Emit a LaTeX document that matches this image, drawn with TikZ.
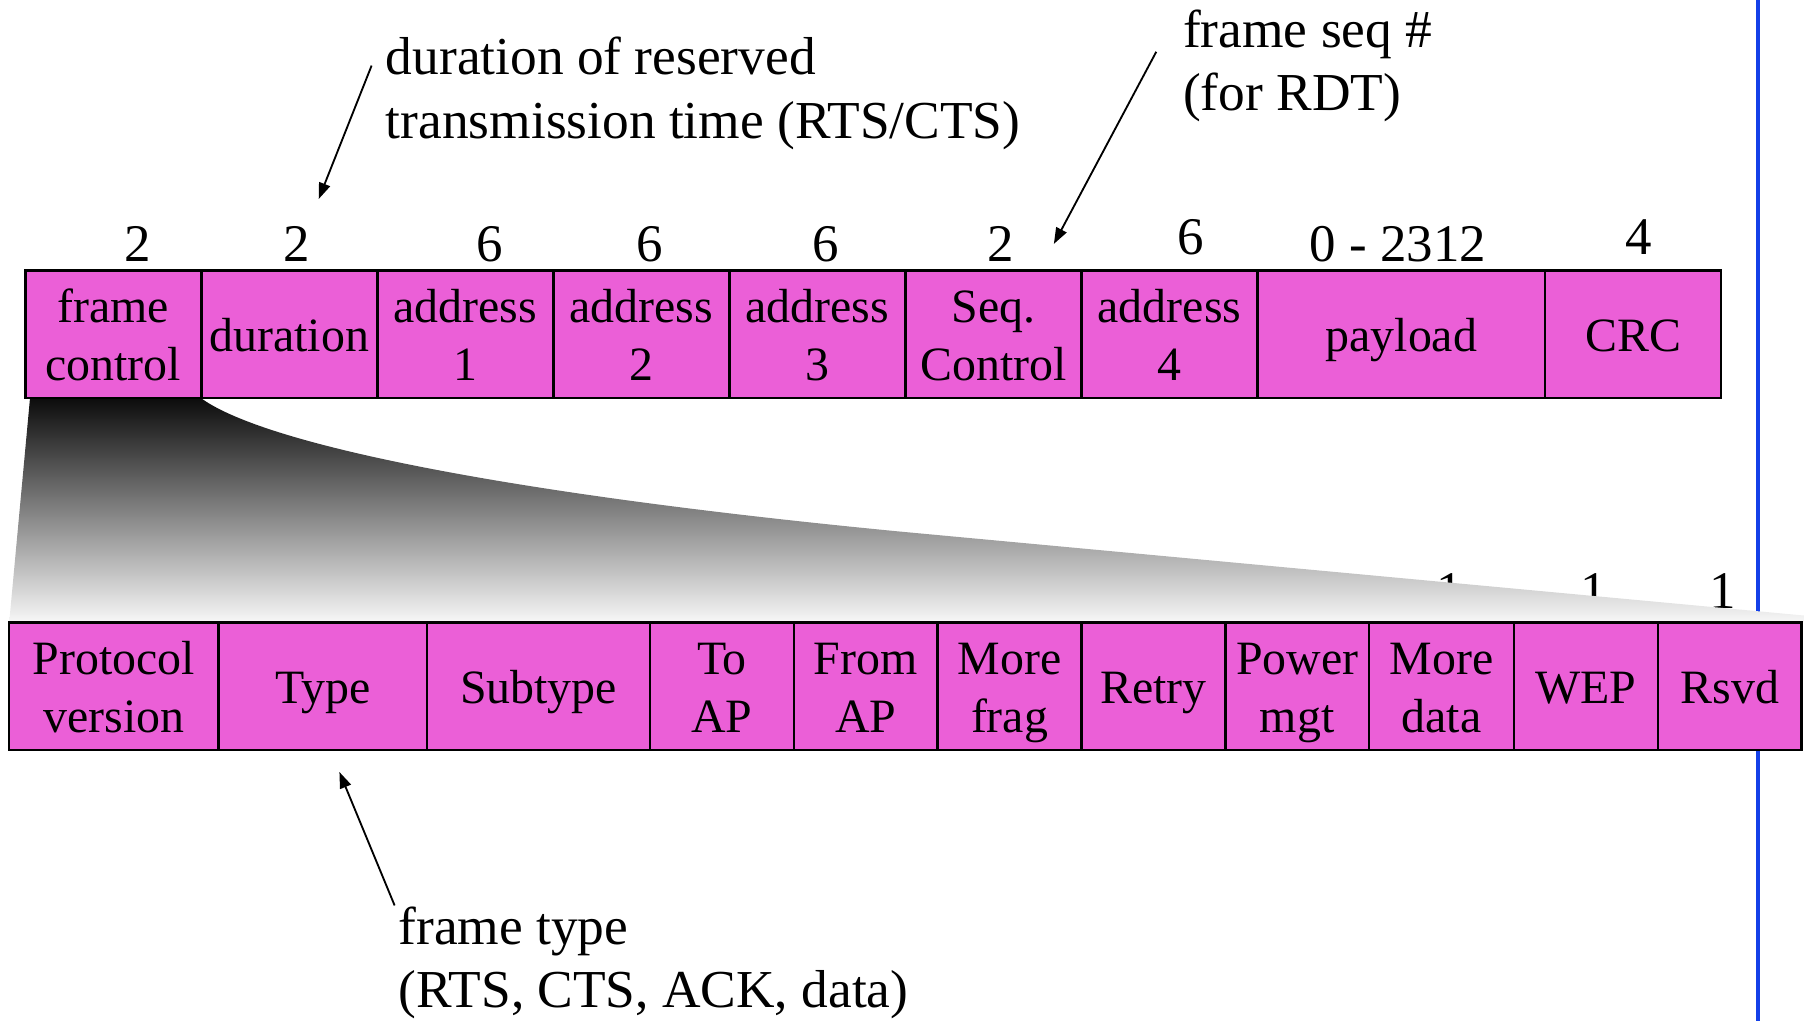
\documentclass[tikz,border=0pt]{standalone}
\usepackage{fontspec}
\setmainfont{Liberation Serif}
\usetikzlibrary{arrows.meta}
\definecolor{fieldpink}{RGB}{235,95,215}
\definecolor{rulerblue}{RGB}{20,64,232}
% line strut for field labels: 20pt above, 5pt below the baseline
\newcommand\fieldstrut{\rule[-5pt]{0pt}{25pt}}

\begin{document}
\begin{tikzpicture}[x=0.5pt,y=-0.5pt,
  fieldbox/.style={draw=black, line width=1.1pt, fill=fieldpink, inner sep=0pt,
    align=center, font=\fontsize{20.8}{25}\selectfont, minimum height=55.5pt},
  sizelabel/.style={inner sep=0pt, font=\fontsize{23}{27.5}\selectfont},
  note/.style={inner sep=0pt, align=left, anchor=base west,
    font=\fontsize{23.2}{27.5}\selectfont},
  pointer/.style={line width=0.8pt, -{Triangle[length=7pt,width=5pt]}},
  ruler/.style={draw=rulerblue, line width=2pt},
]
\useasboundingbox (0,0) rectangle (1568,887);

% vertical blue rule on the right
\coordinate (rulerTop) at (1528,0);
\coordinate (rulerBottom) at (1528,887);
\draw[ruler] (rulerTop) -- (rulerBottom);

% field sizes (bytes) above the MAC frame
\node[sizelabel] (s1) at (120,212) {2};
\node[sizelabel] (s2) at (258,212) {2};
\node[sizelabel] (s3) at (426,212) {6};
\node[sizelabel] (s4) at (565,212) {6};
\node[sizelabel] (s5) at (718,212) {6};
\node[sizelabel] (s6) at (870,212) {2};
\node[sizelabel] (s7) at (1035,206) {6};
\node[sizelabel] (s8) at (1215,212) {0 - 2312};
\node[sizelabel] (s9) at (1424,206) {4};

% bit sizes above the frame control subfields
\node[sizelabel] (b9) at (1260,514) {1};
\node[sizelabel] (b10) at (1385,514) {1};
\node[sizelabel] (b11) at (1497,514) {1};

% shaded fan expanding the frame control field
\shade[top color=black!95, middle color=black!45, bottom color=white!97!black]
  (26,347) -- (176,347) .. controls (235,388) and (450,430) .. (782,462)
  -- (1568,535) -- (1568,541) -- (8,541) -- cycle;

% 802.11 MAC frame
\node[fieldbox, minimum width=76.5pt] (fc)   at (98.5,290.5)  {\fieldstrut frame\\\fieldstrut control};
\node[fieldbox, minimum width=76.5pt] (dur)  at (251.5,290.5) {\fieldstrut duration};
\node[fieldbox, minimum width=76.5pt] (a1)   at (404.5,290.5) {\fieldstrut address\\\fieldstrut 1};
\node[fieldbox, minimum width=76.5pt] (a2)   at (557.5,290.5) {\fieldstrut address\\\fieldstrut 2};
\node[fieldbox, minimum width=76.5pt] (a3)   at (710.5,290.5) {\fieldstrut address\\\fieldstrut 3};
\node[fieldbox, minimum width=76.5pt] (seq)  at (863.5,290.5) {\fieldstrut Seq.\\\fieldstrut Control};
\node[fieldbox, minimum width=76.5pt] (a4)   at (1016.5,290.5) {\fieldstrut address\\\fieldstrut 4};
\node[fieldbox, minimum width=125pt]  (pay)  at (1218,290.5)  {\fieldstrut payload};
\node[fieldbox, minimum width=76.5pt] (crc)  at (1419.5,290.5) {\fieldstrut CRC};

% frame control subfields
\node[fieldbox, minimum width=91pt]   (pv)    at (99,596.5)    {\fieldstrut Protocol\\\fieldstrut version};
\node[fieldbox, minimum width=90.5pt] (type)  at (280.5,596.5) {\fieldstrut Type};
\node[fieldbox, minimum width=97pt]   (sub)   at (468,596.5)   {\fieldstrut Subtype};
\node[fieldbox, minimum width=62.5pt] (toap)  at (627.5,596.5) {\fieldstrut To\\\fieldstrut AP};
\node[fieldbox, minimum width=62.5pt] (frap)  at (752.5,596.5) {\fieldstrut From\\\fieldstrut AP};
\node[fieldbox, minimum width=62.5pt] (mfrag) at (877.5,596.5) {\fieldstrut More\\\fieldstrut frag};
\node[fieldbox, minimum width=62.5pt] (retry) at (1002.5,596.5) {\fieldstrut Retry};
\node[fieldbox, minimum width=62.5pt] (pwr)   at (1127.5,596.5) {\fieldstrut Power\\\fieldstrut mgt};
\node[fieldbox, minimum width=63pt]   (mdata) at (1253,596.5)  {\fieldstrut More\\\fieldstrut data};
\node[fieldbox, minimum width=62.5pt] (wep)   at (1378.5,596.5) {\fieldstrut WEP};
\node[fieldbox, minimum width=62.5pt] (rsvd)  at (1503.5,596.5) {\fieldstrut Rsvd};

% annotations (anchored at the baseline of their last line)
\node[note] (durnote) at (335,120) {duration of reserved\\transmission time (RTS/CTS)};
\coordinate (durTail) at (323,57);
\coordinate (durTip) at (277,173);
\draw[pointer] (durTail) -- (durTip);

\node[note] (seqnote) at (1028,96) {frame seq \#\\(for RDT)};
\coordinate (seqTail) at (1005,45);
\coordinate (seqTip) at (916,212);
\draw[pointer] (seqTail) -- (seqTip);

\node[note] (typenote) at (346,875.5) {frame type\\(RTS, CTS, ACK, data)};
\coordinate (typeTail) at (343,787);
\coordinate (typeTip) at (295,671);
\draw[pointer] (typeTail) -- (typeTip);
\end{tikzpicture}
\end{document}
